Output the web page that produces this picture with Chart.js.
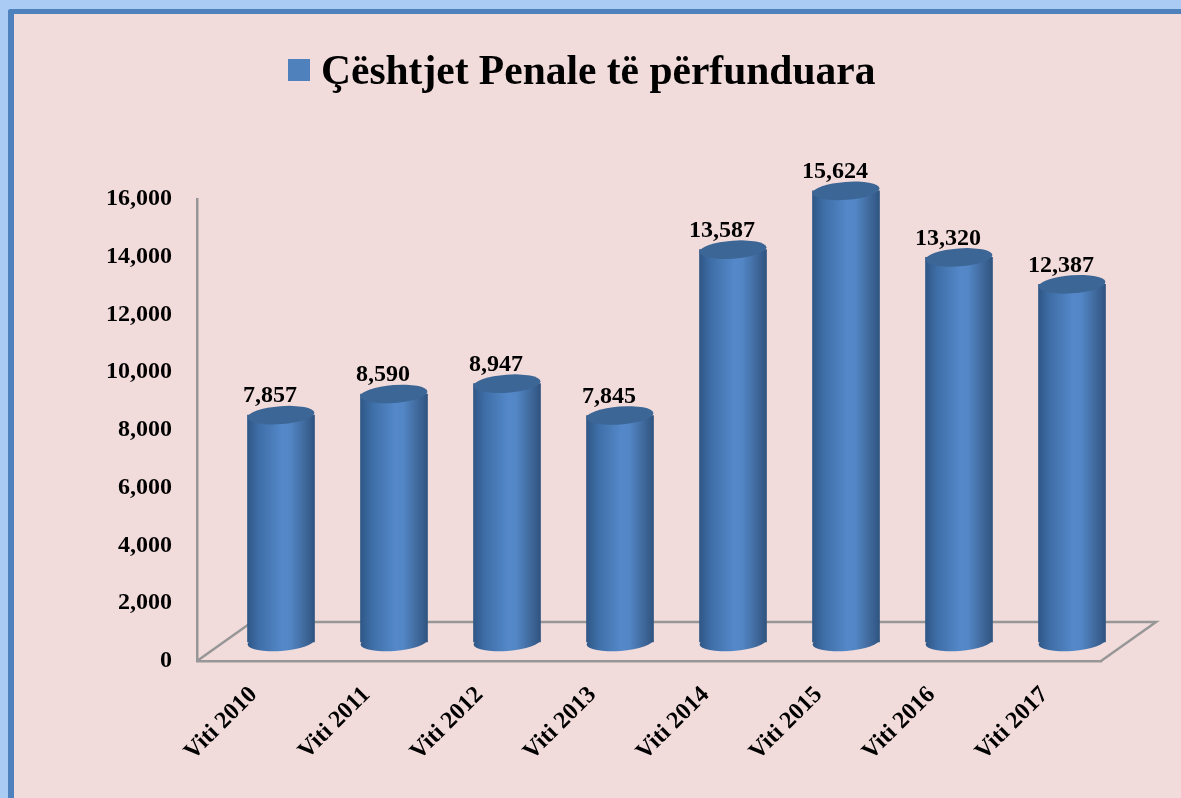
<!DOCTYPE html>
<html><head><meta charset="utf-8">
<style>
html,body{margin:0;padding:0;width:1181px;height:798px;overflow:hidden;background:#a9cbf4}
#frame{position:absolute;left:8px;top:9px;width:1173px;height:789px;box-sizing:border-box;background:#f2dcdb;border-left:6px solid #4f81bd;border-top:5px solid #4f81bd;border-top-left-radius:3px}
#wrap{position:absolute;left:0;top:0;width:1181px;height:798px}
</style>
<script src="https://cdn.jsdelivr.net/npm/chart.js@4"></script>
</head><body>
<div id="frame"></div>
<div id="wrap"><canvas id="c" width="1181" height="798"></canvas></div>
<script>
const categories=["Viti 2010","Viti 2011","Viti 2012","Viti 2013","Viti 2014","Viti 2015","Viti 2016","Viti 2017"];
const values=[7857,8590,8947,7845,13587,15624,13320,12387];
const seriesName="Çështjet Penale të përfunduara";
const FONT="'Liberation Serif','Times New Roman',serif";
const DX=27.5,DY=-19,DEPTHX=55,DEPTHY=-39,RX=33.5,RY=9,TILT=-0.075;
function grad(ctx,l,r){
  const g=ctx.createLinearGradient(l,0,r,0);
  g.addColorStop(0,"#2f5787");g.addColorStop(0.18,"#3f6fa8");g.addColorStop(0.52,"#5488c9");
  g.addColorStop(0.64,"#5286c5");g.addColorStop(0.85,"#40699c");g.addColorStop(1,"#2f5480");
  return g;
}
const cyl={id:"cyl",
  beforeDatasetsDraw(ch){
    const {ctx,chartArea:a}=ch;
    ctx.save();ctx.strokeStyle="#979797";ctx.lineWidth=2.5;ctx.beginPath();
    ctx.moveTo(a.left,a.bottom);ctx.lineTo(a.left+DEPTHX,a.bottom+DEPTHY);
    ctx.lineTo(a.right+DEPTHX,a.bottom+DEPTHY);ctx.lineTo(a.right,a.bottom);ctx.stroke();ctx.restore();
    ctx.save();ctx.translate(DX,DY);
    ch.getDatasetMeta(0).data.forEach(b=>{
      ctx.fillStyle=grad(ctx,b.x-RX,b.x+RX);ctx.beginPath();
      ctx.ellipse(b.x,b.base,RX,RY,TILT,0,Math.PI*2);ctx.fill();
    });
    ctx.restore();
    ctx.save();ctx.translate(DX,DY);
  },
  afterDatasetsDraw(ch){
    const {ctx}=ch;
    ctx.restore();
    ctx.save();ctx.translate(DX,DY);
    const meta=ch.getDatasetMeta(0);
    meta.data.forEach((b,i)=>{
      ctx.fillStyle="#3c6695";ctx.beginPath();
      ctx.ellipse(b.x,b.y,RX,RY,TILT,0,Math.PI*2);ctx.fill();
      ctx.fillStyle="#000";ctx.font="bold 24px "+FONT;ctx.textAlign="center";ctx.textBaseline="middle";
      ctx.fillText(values[i].toLocaleString("en-US"),b.x-11,b.y-19);
    });
    ctx.restore();
    ctx.save();ctx.fillStyle="#4f81bd";ctx.fillRect(288,59,22,22);
    ctx.fillStyle="#000";ctx.font="bold 41.5px "+FONT;ctx.textAlign="left";ctx.textBaseline="middle";
    ctx.fillText(ch.data.datasets[0].label,321,73);ctx.restore();
  }};
new Chart(document.getElementById("c"),{
  type:"bar",
  data:{labels:categories,datasets:[{label:seriesName,data:values,barThickness:67,clip:false,borderWidth:0,
    backgroundColor(c){const s=c.chart.scales.x;if(!s||c.dataIndex===undefined)return "#4f81bd";
      const x=s.getPixelForValue(c.dataIndex);if(!isFinite(x))return "#4f81bd";return grad(c.chart.ctx,x-RX,x+RX);}}]},
  options:{responsive:false,animation:false,
    layout:{padding:{left:0,top:199,right:80,bottom:0}},
    plugins:{legend:{display:false},title:{display:false},tooltip:{enabled:false}},
    scales:{
      x:{afterFit(s){s.height=137},grid:{display:false},border:{color:"#979797",width:2.5},
        ticks:{autoSkip:false,minRotation:45,maxRotation:45,color:"#000",padding:12,font:{family:FONT,size:24,weight:"bold"}}},
      y:{min:0,max:16000,afterFit(s){s.width=197},grid:{display:false,drawTicks:false},border:{color:"#979797",width:2.5},
        ticks:{stepSize:2000,color:"#000",padding:25,font:{family:FONT,size:24,weight:"bold"},callback:v=>v.toLocaleString("en-US")}}
    }},
  plugins:[cyl]
});
</script></body></html>
